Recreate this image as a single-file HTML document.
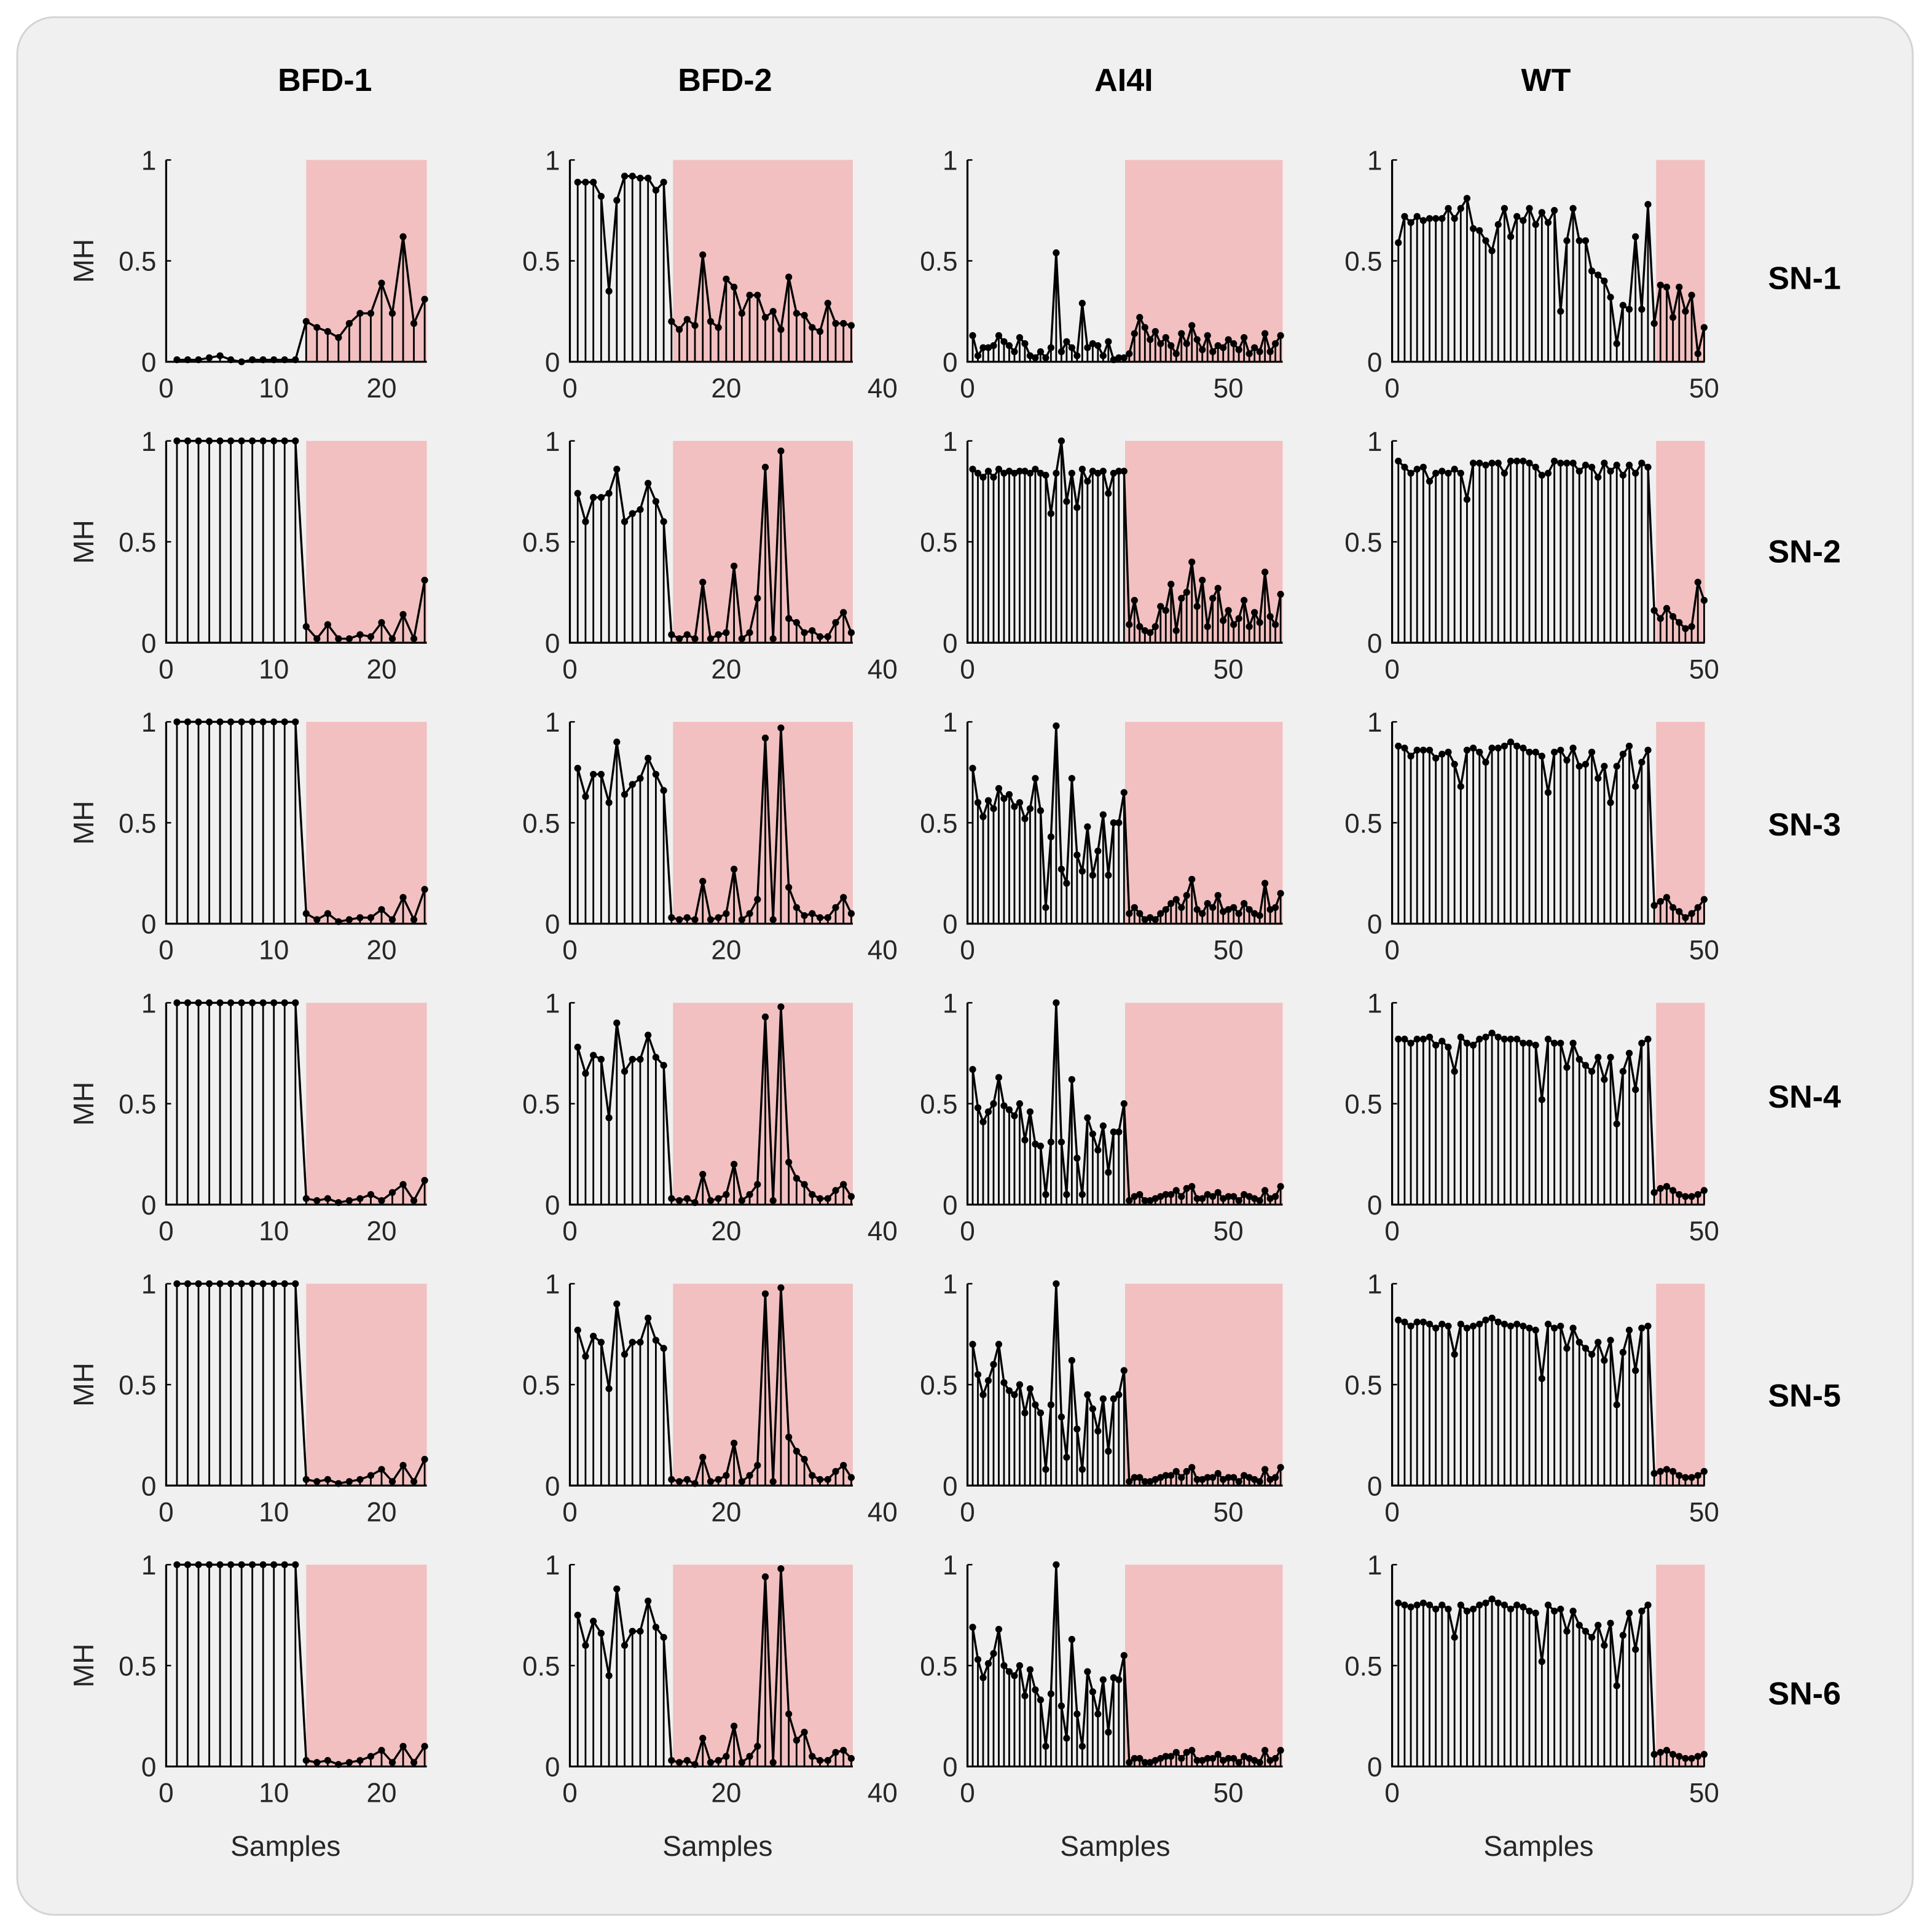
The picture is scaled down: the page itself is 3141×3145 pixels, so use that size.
<!DOCTYPE html>
<html><head><meta charset="utf-8"><style>
html,body{margin:0;padding:0;background:#fff;}
svg{display:block;font-family:"Liberation Sans",sans-serif;}
</style></head><body>
<svg id="fig" width="3141" height="3145" viewBox="0 0 1568 1570" xmlns="http://www.w3.org/2000/svg">
<rect x="14" y="14" width="1540" height="1542" rx="30" fill="#f0f0f0" stroke="#d4d4d4" stroke-width="1.5"/>
</svg>
<script>
const colTitles=["BFD-1","BFD-2","AI4I","WT"];
const rowTitles=["SN-1","SN-2","SN-3","SN-4","SN-5","SN-6"];
const col1Normal=[[0.01,0.01,0.01,0.02,0.03,0.01,0,0.01,0.01,0.01,0.01,0.01],[1,1,1,1,1,1,1,1,1,1,1,1],[1,1,1,1,1,1,1,1,1,1,1,1],[1,1,1,1,1,1,1,1,1,1,1,1],[1,1,1,1,1,1,1,1,1,1,1,1],[1,1,1,1,1,1,1,1,1,1,1,1]];
const col1Fault=[[0.2,0.17,0.15,0.12,0.19,0.24,0.24,0.39,0.24,0.62,0.19,0.31],[0.08,0.02,0.09,0.02,0.02,0.04,0.03,0.1,0.02,0.14,0.02,0.31],[0.05,0.02,0.05,0.01,0.02,0.03,0.03,0.07,0.02,0.13,0.02,0.17],[0.03,0.02,0.03,0.01,0.02,0.03,0.05,0.02,0.06,0.1,0.02,0.12],[0.03,0.02,0.03,0.01,0.02,0.03,0.05,0.08,0.02,0.1,0.02,0.13],[0.03,0.02,0.03,0.01,0.02,0.03,0.05,0.08,0.02,0.1,0.02,0.1]];
const col2Normal=[[0.89,0.89,0.89,0.82,0.35,0.8,0.92,0.92,0.91,0.91,0.85,0.89],[0.74,0.6,0.72,0.72,0.74,0.86,0.6,0.64,0.66,0.79,0.7,0.6],[0.77,0.63,0.74,0.74,0.6,0.9,0.64,0.69,0.72,0.82,0.74,0.66],[0.78,0.65,0.74,0.72,0.43,0.9,0.66,0.72,0.72,0.84,0.73,0.69],[0.77,0.64,0.74,0.71,0.48,0.9,0.65,0.71,0.71,0.83,0.72,0.68],[0.75,0.6,0.72,0.66,0.45,0.88,0.6,0.67,0.67,0.82,0.69,0.64]];
const col2Fault=[[0.2,0.16,0.21,0.18,0.53,0.2,0.17,0.41,0.37,0.24,0.33,0.33,0.22,0.25,0.16,0.42,0.24,0.23,0.17,0.15,0.29,0.19,0.19,0.18],[0.04,0.02,0.04,0.02,0.3,0.02,0.04,0.05,0.38,0.02,0.05,0.22,0.87,0.02,0.95,0.12,0.1,0.05,0.06,0.03,0.03,0.1,0.15,0.05],[0.03,0.02,0.03,0.02,0.21,0.02,0.03,0.05,0.27,0.02,0.05,0.12,0.92,0.02,0.97,0.18,0.08,0.04,0.05,0.03,0.03,0.08,0.13,0.05],[0.03,0.02,0.03,0.01,0.15,0.02,0.03,0.05,0.2,0.02,0.05,0.1,0.93,0.02,0.98,0.21,0.13,0.1,0.05,0.03,0.03,0.07,0.1,0.04],[0.03,0.02,0.03,0.01,0.14,0.02,0.03,0.05,0.21,0.02,0.05,0.1,0.95,0.02,0.98,0.24,0.17,0.13,0.05,0.03,0.03,0.07,0.1,0.04],[0.03,0.02,0.03,0.01,0.14,0.02,0.03,0.05,0.2,0.02,0.05,0.1,0.94,0.02,0.98,0.26,0.13,0.17,0.05,0.03,0.03,0.07,0.08,0.04]];
const col3Normal=[[0.13,0.03,0.07,0.07,0.08,0.13,0.1,0.08,0.05,0.12,0.09,0.03,0.02,0.05,0.02,0.07,0.54,0.05,0.1,0.07,0.03,0.29,0.07,0.09,0.08,0.03,0.1,0.01,0.02,0.02],[0.86,0.84,0.82,0.85,0.82,0.86,0.84,0.85,0.84,0.85,0.85,0.84,0.86,0.84,0.83,0.64,0.84,1.0,0.7,0.84,0.67,0.86,0.8,0.85,0.84,0.85,0.74,0.84,0.85,0.85],[0.77,0.6,0.53,0.61,0.57,0.67,0.62,0.64,0.58,0.6,0.52,0.57,0.72,0.56,0.08,0.43,0.98,0.27,0.2,0.72,0.34,0.26,0.48,0.24,0.36,0.54,0.24,0.5,0.5,0.65],[0.67,0.48,0.41,0.46,0.5,0.63,0.49,0.47,0.44,0.5,0.32,0.46,0.3,0.29,0.05,0.31,1.0,0.31,0.05,0.62,0.23,0.05,0.43,0.35,0.27,0.39,0.16,0.36,0.36,0.5],[0.7,0.55,0.45,0.52,0.6,0.7,0.51,0.47,0.45,0.5,0.36,0.48,0.4,0.36,0.08,0.4,1.0,0.34,0.14,0.62,0.28,0.08,0.45,0.38,0.27,0.43,0.17,0.43,0.45,0.57],[0.69,0.53,0.44,0.51,0.56,0.68,0.5,0.47,0.45,0.5,0.35,0.48,0.38,0.33,0.1,0.36,1.0,0.3,0.14,0.63,0.26,0.1,0.47,0.37,0.26,0.43,0.17,0.44,0.43,0.55]];
const col3Fault=[[0.04,0.14,0.22,0.17,0.11,0.15,0.09,0.12,0.08,0.04,0.14,0.09,0.18,0.11,0.06,0.13,0.05,0.08,0.07,0.11,0.09,0.06,0.12,0.04,0.07,0.05,0.14,0.05,0.09,0.13],[0.09,0.21,0.08,0.06,0.05,0.08,0.18,0.16,0.29,0.06,0.22,0.25,0.4,0.18,0.31,0.08,0.22,0.27,0.11,0.16,0.09,0.12,0.21,0.08,0.15,0.1,0.35,0.13,0.09,0.24],[0.05,0.08,0.05,0.02,0.03,0.02,0.05,0.07,0.1,0.12,0.08,0.14,0.22,0.07,0.05,0.1,0.08,0.14,0.06,0.07,0.08,0.05,0.1,0.07,0.05,0.04,0.2,0.07,0.08,0.15],[0.02,0.04,0.05,0.02,0.02,0.03,0.04,0.05,0.05,0.07,0.04,0.08,0.09,0.03,0.03,0.05,0.04,0.06,0.03,0.04,0.04,0.02,0.05,0.04,0.03,0.02,0.07,0.03,0.04,0.09],[0.02,0.04,0.04,0.02,0.02,0.03,0.04,0.05,0.05,0.07,0.04,0.07,0.09,0.03,0.03,0.04,0.04,0.06,0.03,0.04,0.04,0.02,0.05,0.04,0.03,0.02,0.08,0.03,0.04,0.09],[0.02,0.04,0.04,0.02,0.02,0.03,0.04,0.05,0.05,0.07,0.04,0.07,0.08,0.03,0.03,0.04,0.04,0.06,0.03,0.04,0.04,0.02,0.05,0.04,0.03,0.02,0.08,0.03,0.04,0.08]];
const col4Normal=[[0.59,0.72,0.69,0.72,0.7,0.71,0.71,0.71,0.76,0.71,0.76,0.81,0.66,0.65,0.6,0.55,0.68,0.76,0.62,0.72,0.7,0.76,0.68,0.74,0.69,0.75,0.25,0.6,0.76,0.6,0.6,0.45,0.43,0.4,0.32,0.09,0.28,0.26,0.62,0.26,0.78],[0.9,0.87,0.84,0.86,0.87,0.8,0.84,0.85,0.84,0.86,0.84,0.71,0.89,0.89,0.88,0.89,0.89,0.84,0.9,0.9,0.9,0.89,0.87,0.83,0.84,0.9,0.89,0.89,0.89,0.85,0.88,0.87,0.82,0.89,0.85,0.88,0.83,0.88,0.84,0.89,0.87],[0.88,0.87,0.83,0.86,0.86,0.86,0.82,0.84,0.85,0.79,0.68,0.86,0.87,0.85,0.8,0.87,0.87,0.88,0.9,0.88,0.87,0.85,0.85,0.83,0.65,0.85,0.86,0.81,0.87,0.78,0.79,0.85,0.72,0.78,0.6,0.78,0.84,0.88,0.68,0.8,0.86],[0.82,0.82,0.8,0.82,0.82,0.83,0.79,0.81,0.78,0.66,0.83,0.8,0.79,0.82,0.83,0.85,0.83,0.82,0.82,0.82,0.8,0.8,0.79,0.52,0.82,0.8,0.8,0.68,0.8,0.72,0.69,0.66,0.73,0.62,0.73,0.4,0.66,0.75,0.57,0.8,0.82],[0.82,0.81,0.79,0.81,0.81,0.8,0.78,0.8,0.79,0.65,0.8,0.78,0.79,0.8,0.82,0.83,0.81,0.8,0.79,0.8,0.79,0.78,0.77,0.53,0.8,0.78,0.79,0.68,0.78,0.71,0.68,0.65,0.71,0.62,0.72,0.4,0.66,0.77,0.57,0.78,0.79],[0.81,0.8,0.79,0.8,0.81,0.8,0.78,0.8,0.78,0.64,0.8,0.77,0.78,0.8,0.81,0.83,0.81,0.8,0.78,0.8,0.79,0.77,0.76,0.52,0.8,0.77,0.78,0.67,0.77,0.7,0.67,0.64,0.7,0.6,0.71,0.4,0.65,0.76,0.58,0.77,0.8]];
const col4Fault=[[0.19,0.38,0.37,0.22,0.37,0.25,0.33,0.04,0.17],[0.16,0.12,0.17,0.13,0.1,0.07,0.08,0.3,0.21],[0.09,0.11,0.13,0.08,0.06,0.03,0.05,0.08,0.12],[0.06,0.08,0.09,0.07,0.05,0.04,0.04,0.05,0.07],[0.06,0.07,0.08,0.07,0.05,0.04,0.04,0.05,0.07],[0.06,0.07,0.08,0.06,0.05,0.04,0.04,0.05,0.06]];
const xTicks=[[0,10,20],[0,20,40],[0,50],[0,50]];
const yTicks=[0,0.5,1];
const xMax=[24.2,36.2,60.4,50.1];
const shadeStart=[13,13.2,30.2,42.3];
const normals=[col1Normal,col2Normal,col3Normal,col4Normal];
const faults=[col1Fault,col2Fault,col3Fault,col4Fault];

const NS="http://www.w3.org/2000/svg";
const svg=document.getElementById('fig');
const colX0=[135,463,786,1131];
const colScale=[8.75,6.35,4.24,5.07];
const titleX=[264,589,913,1256];
const samplesX=[232,583,906,1250];
const rowLabelY=[226,448,670,891,1134,1376];
const rowTop=130, rowH=164, rowStep=228.3;
function mk(tag,attrs,parent){const e=document.createElementNS(NS,tag);for(const k in attrs)e.setAttribute(k,attrs[k]);(parent||svg).appendChild(e);return e;}

colTitles.forEach((t,c)=>{
  const e=mk('text',{x:titleX[c],y:74,'text-anchor':'middle','font-size':26,'font-weight':'bold',fill:'#000'});
  e.textContent=t;
  
  
});
rowTitles.forEach((t,r)=>{
  const e=mk('text',{x:1466,y:rowLabelY[r]+9,'text-anchor':'middle','font-size':26,'font-weight':'bold',fill:'#000'});
  e.textContent=t;
  
  
});

for(let r=0;r<6;r++){
  for(let c=0;c<4;c++){
    const g=mk('g',{});
    
    
    const x0=colX0[c], sc=colScale[c];
    const y0=rowTop+r*rowStep+rowH;
    const X=v=>x0+v*sc;
    const Y=v=>y0-v*rowH;
    const xEnd=X(xMax[c]);
    const sh=mk('rect',{x:X(shadeStart[c]),y:Y(1),width:xEnd-X(shadeStart[c]),height:rowH,fill:'#f2c0c0'},g);
    
    
    const vals=normals[c][r].concat(faults[c][r]);
    vals.forEach((v,i)=>{
      const s=mk('line',{x1:X(i+1),x2:X(i+1),y1:y0,y2:Y(v),stroke:'#000','stroke-width':1.4},g);
      
      
    });
    const pts=vals.map((v,i)=>X(i+1).toFixed(2)+','+Y(v).toFixed(2)).join(' ');
    const pl=mk('polyline',{points:pts,fill:'none',stroke:'#000','stroke-width':1.7,'stroke-linejoin':'round'},g);
    
    
    vals.forEach((v,i)=>{
      const d=mk('circle',{cx:X(i+1),cy:Y(v),r:2.8,fill:'#000'},g);
      
      
    });
    const ax=mk('path',{d:`M${x0},${Y(1)} L${x0},${y0} L${xEnd},${y0}`,fill:'none',stroke:'#000','stroke-width':1.6},g);
    
    
    yTicks.forEach(t=>{
      mk('line',{x1:x0,x2:x0+4,y1:Y(t),y2:Y(t),stroke:'#000','stroke-width':1.2},g);
      const tl=mk('text',{x:x0-8,y:Y(t)+8,'text-anchor':'end','font-size':22,fill:'#262626'},g);
      tl.textContent=String(t);
      
      
    });
    xTicks[c].forEach(t=>{
      if(X(t)<=xEnd) mk('line',{x1:X(t),x2:X(t),y1:y0,y2:y0-4,stroke:'#000','stroke-width':1.2},g);
      const tl=mk('text',{x:X(t),y:y0+29,'text-anchor':'middle','font-size':22,fill:'#262626'},g);
      tl.textContent=String(t);
      
      
    });
    if(c===0){
      const yl=mk('text',{x:0,y:0,'text-anchor':'middle','font-size':23,fill:'#262626',transform:`translate(76,${y0-rowH/2}) rotate(-90)`},g);
      yl.textContent='MH';
      
      
    }
    if(r===5){
      const xl=mk('text',{x:samplesX[c],y:1508,'text-anchor':'middle','font-size':23,fill:'#262626'},g);
      xl.textContent='Samples';
      
      
    }
  }
}
</script>
</body></html>
